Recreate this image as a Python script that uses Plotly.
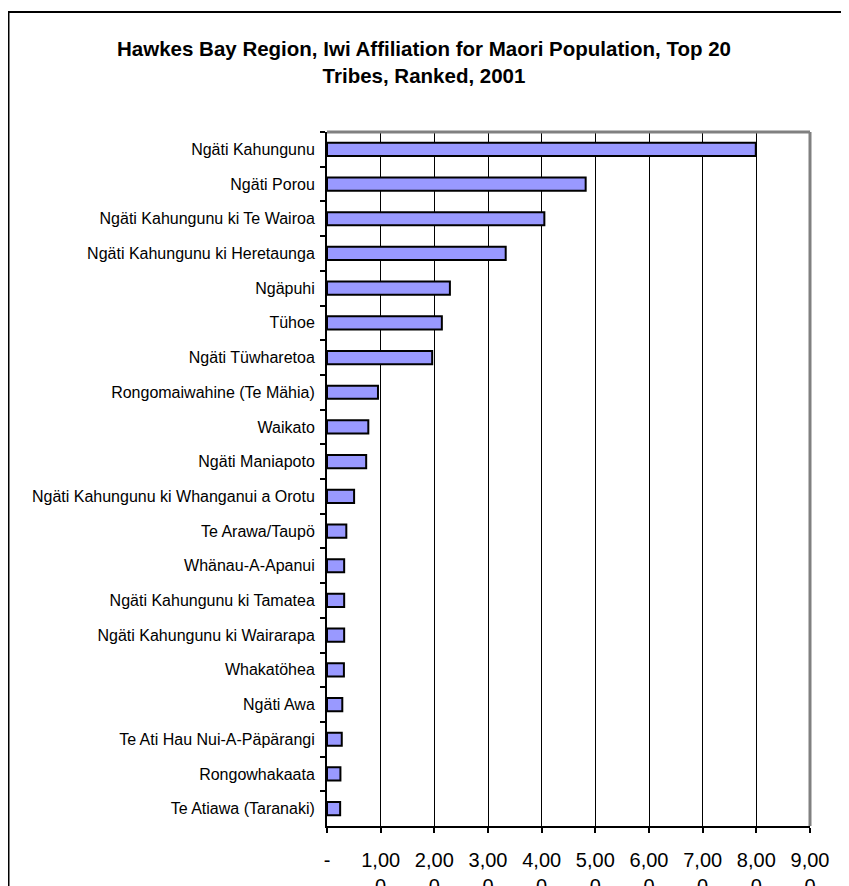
import plotly.graph_objects as go

tribes = [
    "Ngäti Kahungunu",
    "Ngäti Porou",
    "Ngäti Kahungunu ki Te Wairoa",
    "Ngäti Kahungunu ki Heretaunga",
    "Ngäpuhi",
    "Tühoe",
    "Ngäti Tüwharetoa",
    "Rongomaiwahine (Te Mähia)",
    "Waikato",
    "Ngäti Maniapoto",
    "Ngäti Kahungunu ki Whanganui a Orotu",
    "Te Arawa/Taupö",
    "Whänau-A-Apanui",
    "Ngäti Kahungunu ki Tamatea",
    "Ngäti Kahungunu ki Wairarapa",
    "Whakatöhea",
    "Ngäti Awa",
    "Te Ati Hau Nui-A-Päpärangi",
    "Rongowhakaata",
    "Te Atiawa (Taranaki)",
]
population = [7990, 4820, 4050, 3330, 2290, 2140, 1960, 950, 770, 730,
              505, 360, 320, 320, 320, 315, 285, 275, 250, 245]

tick_vals = [0, 1000, 2000, 3000, 4000, 5000, 6000, 7000, 8000, 9000]
tick_text = ["-", "1,00<br>0", "2,00<br>0", "3,00<br>0", "4,00<br>0",
             "5,00<br>0", "6,00<br>0", "7,00<br>0", "8,00<br>0", "9,00<br>0"]

title_text = ("Hawkes Bay Region, Iwi Affiliation for Maori Population, Top 20"
              "<br>Tribes, Ranked, 2001")

# The page body keeps its default 8px margin, so the figure is sized to fit
# the 849x886 window from (8, 8).
W, H = 841, 878
ML, MR, MT, MB = 319, 39, 124, 60
PW, PH = W - ML - MR, H - MT - MB

def px_x(x):
    return (x - ML) / PW

def px_y(y):
    return (H - MB - y) / PH

FONT = "Arial, Liberation Sans, sans-serif"

fig = go.Figure(go.Bar(
    x=population,
    y=tribes,
    orientation="h",
    marker=dict(color="#9999FF", line=dict(color="black", width=2)),
))

fig.update_layout(
    width=W, height=H,
    margin=dict(l=ML, r=MR, t=MT, b=MB, autoexpand=False),
    paper_bgcolor="white",
    plot_bgcolor="white",
    bargap=0.62,
    showlegend=False,
    font=dict(family=FONT, color="black"),
    title=dict(
        text="<b>" + title_text + "</b>",
        x=416 / W, xanchor="center",
        y=1 - 48 / H, yanchor="top",
        font=dict(family=FONT, size=20.5, color="black"),
    ),
    xaxis=dict(
        range=[0, 9000],
        tickvals=tick_vals,
        ticktext=tick_text,
        showgrid=True, gridcolor="black", gridwidth=1,
        showline=True, linecolor="black", linewidth=2,
        ticks="outside", ticklen=5, tickwidth=2, tickcolor="black",
        tickfont=dict(family=FONT, size=20, color="black"),
        ticklabelstandoff=10,
        zeroline=False,
        automargin=False,
        fixedrange=True,
    ),
    yaxis=dict(
        categoryorder="array",
        categoryarray=tribes,
        autorange="reversed",
        showgrid=False,
        showline=True, linecolor="black", linewidth=2,
        ticks="outside", ticklen=5, tickwidth=2, tickcolor="black",
        tickson="boundaries",
        tickfont=dict(family=FONT, size=16, color="black"),
        ticklabelstandoff=7,
        automargin=False,
        fixedrange=True,
    ),
    shapes=[
        # plot-area top and right border (gray)
        dict(type="line", xref="paper", yref="paper", x0=0, x1=1, y0=1, y1=1,
             line=dict(color="#808080", width=3)),
        dict(type="line", xref="paper", yref="paper", x0=1, x1=1, y0=0, y1=1,
             line=dict(color="#808080", width=3)),
        # outer chart frame
        dict(type="rect", xref="paper", yref="paper",
             x0=px_x(0.5), x1=px_x(W + 20), y0=px_y(4), y1=px_y(H + 20),
             line=dict(color="black", width=2), fillcolor="rgba(0,0,0,0)",
             layer="above"),
    ],
)

fig.write_html("out.html")
